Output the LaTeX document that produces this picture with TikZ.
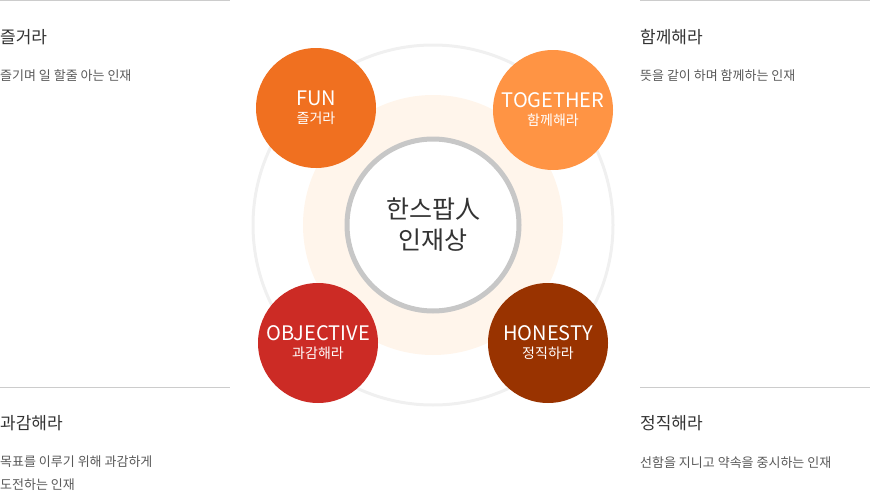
\documentclass[tikz,border=0pt]{standalone}
\usepackage{fontspec}
\setmainfont{Noto Sans CJK KR}
\tikzset{
    every picture/.style={x=1pt,y=-1pt},
    value/.style={circle,minimum size=120pt,inner sep=0pt,text=white,align=center,font=\fontsize{20}{22}\selectfont},
    title/.style={anchor=west,inner sep=0pt,text=black!80,font=\fontsize{17}{19}\selectfont},
    desc/.style={anchor=north west,inner sep=0pt,text=black!65,align=left,font=\fontsize{13}{23}\selectfont},
    rule/.style={draw=black!20,line width=.8pt}
}
\definecolor{fun}{HTML}{F07020}
\definecolor{together}{HTML}{FF9444}
\definecolor{objective}{HTML}{CC2B25}
\definecolor{honesty}{HTML}{993300}
\begin{document}
\begin{tikzpicture}
    \useasboundingbox (0,0) rectangle (870,498);
    % background rings
    \draw[black!6,line width=3pt] (433,225) circle (180);
    \fill[orange!8] (433,225) circle (130);
    \node[circle,draw=black!22,line width=5pt,fill=white,minimum size=172pt,
          align=center,font=\fontsize{25}{31}\selectfont,text=black!80] (core) at (433,225) {한스팝人\\인재상};
    % values
    \node[value,fill=fun]       (fun)  at (316,108) {FUN\\[-4pt]{\fontsize{14}{16}\selectfont 즐거라}};
    \node[value,fill=together]  (tog)  at (553,110) {TOGETHER\\[-4pt]{\fontsize{14}{16}\selectfont 함께해라}};
    \node[value,fill=objective] (obj)  at (318,343) {OBJECTIVE\\[-4pt]{\fontsize{14}{16}\selectfont 과감해라}};
    \node[value,fill=honesty]   (hon)  at (548,343) {HONESTY\\[-4pt]{\fontsize{14}{16}\selectfont 정직하라}};
    % side texts
    \draw[rule] (0,0.5) -- (230,0.5);
    \draw[rule] (640,0.5) -- (870,0.5);
    \draw[rule] (0,387) -- (230,387);
    \draw[rule] (640,387) -- (870,387);
    \node[title] (t1) at (0,37) {즐거라};
    \node[desc]  (d1) at (0,69) {즐기며 일 할줄 아는 인재};
    \node[title] (t2) at (640,37) {함께해라};
    \node[desc]  (d2) at (640,69) {뜻을 같이 하며 함께하는 인재};
    \node[title] (t3) at (0,423) {과감해라};
    \node[desc]  (d3) at (0,456) {목표를 이루기 위해 과감하게\\도전하는 인재};
    \node[title] (t4) at (640,423) {정직해라};
    \node[desc]  (d4) at (640,456) {선함을 지니고 약속을 중시하는 인재};
\end{tikzpicture}
\end{document}
